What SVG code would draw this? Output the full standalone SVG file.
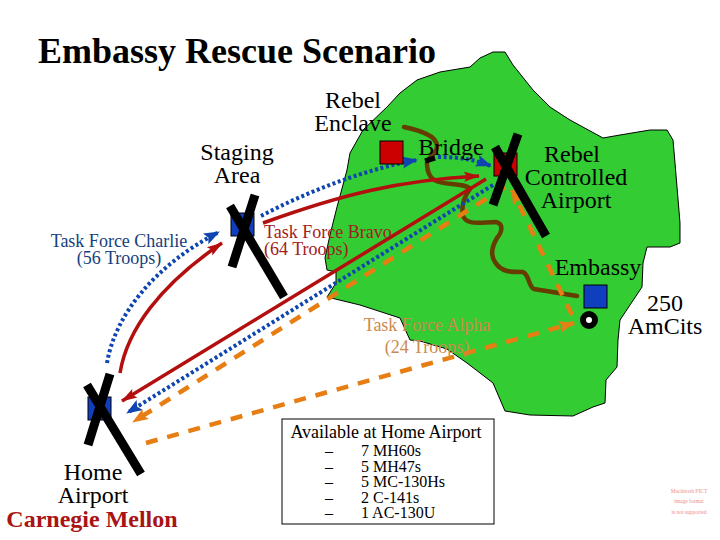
<svg xmlns="http://www.w3.org/2000/svg" width="720" height="540" viewBox="0 0 720 540">
<defs>
<style>
text{font-family:"Liberation Serif","Times New Roman",serif;text-anchor:middle;fill:#000}
.t22{font-size:24px}.t17{font-size:18px}.t16{font-size:16px}
.river{fill:none;stroke:#663d00;stroke-width:4.5;stroke-linecap:round;stroke-linejoin:round}
.x{stroke:#000;stroke-width:9;stroke-linecap:butt;fill:none}
.red{fill:none;stroke:#b30f0f;stroke-width:3.5}
.blue{fill:none;stroke:#0f45b0;stroke-width:4;stroke-dasharray:3 2.6}
.org{fill:none;stroke:#e67e14;stroke-width:4.5;stroke-dasharray:12 10}
.pict{fill:#f08a8a;font-size:5.5px}
</style>
<marker id="mr" markerUnits="userSpaceOnUse" markerWidth="18" markerHeight="14" refX="15" refY="6" orient="auto"><path d="M0 1L16 6L0 11L3 6Z" fill="#b30f0f"/></marker>
<marker id="mb" markerUnits="userSpaceOnUse" markerWidth="18" markerHeight="14" refX="15" refY="6" orient="auto"><path d="M0 0L16 6L0 12L3 6Z" fill="#0f45b0"/></marker>
<marker id="mo" markerUnits="userSpaceOnUse" markerWidth="18" markerHeight="14" refX="15" refY="6" orient="auto"><path d="M0 0L16 6L0 12L3 6Z" fill="#e67e14"/></marker>
</defs>
<rect width="720" height="540" fill="#fff"/>
<path id="territory" d="M327 297L336 283L336 272L327 270L325 258L330 235L337 207L347 170L350 153L363 130L387 107L400 93L417 80L440 72L470 67L480 58L493 52L505 52L513 65L533 90L550 107L570 120L603 138L620 135L650 130L667 130L673 140L675 163L680 223L680 243L670 247L647 247L643 263L642 287L620 320L618 340L617 367L606 380L605 403L593 407L573 416L530 415L505 411L493 383L480 373L467 363L447 349L420 341L410 340L400 318L360 305Z" fill="#33cc33" stroke="#000" stroke-width="1"/>
<g id="rivers">
<path class="river" d="M404 127C418 130 437 135 437 146C437 156 426 156 427 165C428 180 436 183 452 184C462 185 468 186 470 189C464 197 461 206 463 216C467 226 482 222 496 222C504 224 502 232 497 238C491 248 491 256 495 262C501 272 510 272 523 272C530 276 528 286 534 289L577 296"/>
</g>
<g id="connectors">
<path class="blue" d="M261 216C310 190 370 168 417 160" marker-end="url(#mb)"/>
<path class="blue" d="M438 157C462 157 475 160 491 166" marker-end="url(#mb)"/>
<path class="red" d="M263 223C340 195 400 180 479 176" marker-end="url(#mr)"/>
<path class="red" d="M486 179L122 401" marker-end="url(#mr)"/>
<path class="blue" d="M493 185L127 413" marker-end="url(#mb)"/>
<path class="org" d="M505 187L133 422" marker-end="url(#mo)"/>
<path class="org" d="M572 315L512 190" marker-end="url(#mo)"/>
<path class="org" d="M146 443L574 323" marker-end="url(#mo)"/>
<path class="blue" d="M107 363C115 315 155 265 219 232" marker-end="url(#mb)"/>
<path class="red" d="M120 373C127 330 160 285 222 243" marker-end="url(#mr)"/>
</g>
<g id="rebel-enclave">
<rect x="380" y="141" width="23" height="23" fill="#cc0000" stroke="#000"/>
<text class="t22" y="108"><tspan x="353">Rebel</tspan><tspan x="353" y="131">Enclave</tspan></text>
</g>
<g id="bridge">
<path d="M425 161L435 158" stroke="#000" stroke-width="5" fill="none"/>
<text class="t22" x="451" y="155">Bridge</text>
</g>
<g id="staging-area">
<rect x="231" y="213" width="23" height="23" fill="#0f3fbf" stroke="#000"/>
<path class="x" d="M255 195L232 267M230 206L284 297"/>
<text class="t22" y="160"><tspan x="237">Staging</tspan><tspan x="237" y="183">Area</tspan></text>
</g>
<g id="rebel-airport">
<rect x="494" y="153" width="23" height="23" fill="#cc0000" stroke="#000"/>
<path class="x" d="M518 134L493 205M495 147L546 236"/>
<text class="t22" y="162"><tspan x="572">Rebel</tspan><tspan x="576" y="185">Controlled</tspan><tspan x="576" y="208">Airport</tspan></text>
</g>
<g id="embassy">
<rect x="584" y="285" width="23" height="23" fill="#0f3fbf" stroke="#000"/>
<circle cx="589" cy="320" r="6" fill="#fff" stroke="#000" stroke-width="6"/>
<text class="t22" x="598" y="275">Embassy</text>
</g>
<g id="amcits"><text class="t22" y="311"><tspan x="665">250</tspan><tspan x="665" y="334">AmCits</tspan></text></g>
<g id="home-airport">
<rect x="88" y="397" width="23" height="23" fill="#0f3fbf" stroke="#000"/>
<path class="x" d="M110 374L88 445M87 385L141 474"/>
<text class="t22" y="480"><tspan x="93">Home</tspan><tspan x="93" y="503">Airport</tspan></text>
<text x="92" y="527" font-size="24" font-weight="bold" style="fill:#a81414">Carnegie Mellon</text>
</g>
<g id="labels">
<text class="t17" y="247" style="fill:#143f80"><tspan x="119">Task Force Charlie</tspan><tspan x="119" y="264">(56 Troops)</tspan></text>
<text class="t17" y="238" style="text-anchor:start;fill:#a32020"><tspan x="264">Task Force Bravo</tspan><tspan x="264" y="255">(64 Troops)</tspan></text>
<text class="t17" y="331" style="fill:#cc8a4d"><tspan x="427">Task Force Alpha</tspan><tspan x="427" y="353">(24 Troops)</tspan></text>
</g>
<g id="available">
<rect x="282" y="419" width="212" height="105" fill="#fff" stroke="#000" stroke-width="1"/>
<text class="t17" x="386" y="438">Available at Home Airport</text>
<text class="t16" y="456"><tspan x="329">–</tspan><tspan x="329" y="472">–</tspan><tspan x="329" y="487">–</tspan><tspan x="329" y="503">–</tspan><tspan x="329" y="518">–</tspan></text>
<text class="t16" y="456" style="text-anchor:start"><tspan x="361">7 MH60s</tspan><tspan x="361" y="472">5 MH47s</tspan><tspan x="361" y="487">5 MC-130Hs</tspan><tspan x="361" y="503">2 C-141s</tspan><tspan x="361" y="518">1 AC-130U</tspan></text>
</g>
<g id="pict-note">
<text class="pict" y="493"><tspan x="689">Macintosh PICT</tspan><tspan x="689" y="503">image format</tspan><tspan x="689" y="514">is not supported</tspan></text>
</g>
<text id="title" x="237" y="63" font-size="36" font-weight="bold">Embassy Rescue Scenario</text>
</svg>
